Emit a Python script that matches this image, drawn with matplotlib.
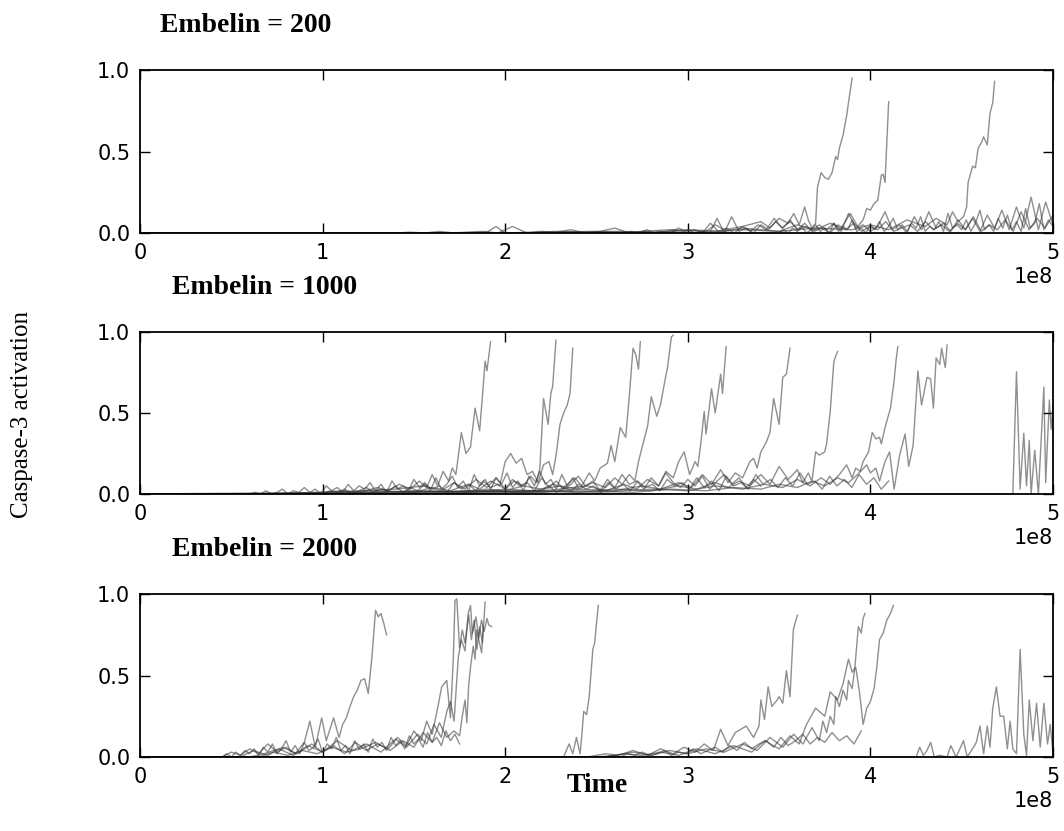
import numpy as np
import matplotlib
matplotlib.use('Agg')
import matplotlib.pyplot as plt

# time values are in units of 1e8, activation is 0..1
# each run: (times, activation)

# Embelin = 200
run200_a = ([0, 1.6, 1.9, 1.95, 2.0, 2.3, 2.6, 2.9, 3.1, 3.15, 3.2, 3.3, 3.4, 3.45, 3.5, 3.55, 3.58, 3.61, 3.64, 3.66,
             3.68, 3.70, 3.71, 3.73, 3.75, 3.77, 3.79, 3.81, 3.82, 3.83, 3.85, 3.87, 3.88, 3.90],
            [0, 0, 0.005, 0.04, 0, 0.01, 0, 0.02, 0.01, 0.05, 0.02, 0.04, 0.07, 0.03, 0.09, 0.06, 0.12, 0.05, 0.16, 0.08,
             0.03, 0.06, 0.28, 0.37, 0.34, 0.33, 0.37, 0.47, 0.45, 0.52, 0.60, 0.72, 0.80, 0.95])
run200_b = ([0, 2.0, 2.5, 2.8, 3.0, 3.2, 3.3, 3.5, 3.6, 3.7, 3.78, 3.84, 3.89, 3.93, 3.96, 3.98, 4.00, 4.02, 4.04, 4.06,
             4.07, 4.08, 4.10],
            [0, 0, 0.01, 0.0, 0.02, 0.01, 0.03, 0.01, 0.05, 0.02, 0.06, 0.03, 0.12, 0.04, 0.08, 0.15, 0.14, 0.18, 0.20, 0.355,
             0.36, 0.31, 0.805])
run200_c = ([0, 2.2, 2.6, 3.0, 3.3, 3.5, 3.7, 3.9, 4.0, 4.1, 4.2, 4.3, 4.36, 4.42, 4.45, 4.48, 4.51, 4.527, 4.535, 4.56,
             4.575, 4.59, 4.61, 4.62, 4.64, 4.655, 4.67, 4.68],
            [0, 0, 0.01, 0.0, 0.02, 0.01, 0.03, 0.02, 0.05, 0.02, 0.08, 0.04, 0.09, 0.05, 0.13, 0.07, 0.10, 0.16, 0.31, 0.41,
             0.40, 0.52, 0.56, 0.59, 0.54, 0.735, 0.80, 0.93])

# runs that stay low: (first time, last time, evenly spaced samples)
quiet200_a = (2.8, 5.0, [0, 0.01, 0, 0.01, 0.0, 0.02, 0, 0.01, 0.0, 0.09, 0.0, 0.10, 0.01, 0.03, 0.0, 0.05, 0.02, 0.07,
                         0.03, 0.08, 0.02, 0.06, 0.01, 0.05, 0.02, 0.06, 0.01, 0.12, 0.03, 0.05, 0.01, 0.04, 0.13, 0.02,
                         0.05, 0.0, 0.10, 0.02, 0.13, 0.03, 0.06, 0.01, 0.08, 0.02, 0.09, 0.01, 0.11, 0.03, 0.14, 0.02,
                         0.16, 0.03, 0.22, 0.02, 0.19, 0.05])
quiet200_b = (2.6, 5.0, [0, 0, 0.01, 0, 0.02, 0, 0.01, 0.0, 0.03, 0.01, 0.02, 0.0, 0.06, 0.01, 0.03, 0.0, 0.04, 0.01,
                         0.05, 0.02, 0.09, 0.03, 0.07, 0.02, 0.04, 0.01, 0.03, 0.0, 0.05, 0.02, 0.06, 0.01, 0.04, 0.02,
                         0.07, 0.01, 0.03, 0.05, 0.01, 0.07, 0.02, 0.05, 0.01, 0.06, 0.02, 0.10, 0.01, 0.05, 0.02, 0.08,
                         0.01, 0.13, 0.02, 0.09, 0.03, 0.11])
quiet200_c = (1.4, 3.0, [0, 0.005, 0, 0.01, 0, 0.005, 0.01, 0, 0.04, 0, 0.01, 0.005, 0.02, 0.0, 0.01, 0.03, 0.0, 0.01,
                         0.0, 0.02, 0.0])
quiet200_d = (3.5, 5.0, [0, 0.02, 0, 0.03, 0.01, 0.04, 0, 0.02, 0.05, 0.01, 0.03, 0, 0.06, 0.01, 0.04, 0.02, 0.08, 0.01,
                         0.03, 0, 0.05, 0.02, 0.07, 0.01, 0.04, 0.09, 0.02, 0.05, 0.01, 0.06, 0.03, 0.10, 0.01, 0.04,
                         0.02, 0.07, 0.01, 0.12, 0.03, 0.05, 0.02, 0.08, 0.01, 0.06, 0.14, 0.02, 0.05, 0.01, 0.09, 0.03,
                         0.11, 0.02, 0.07, 0.01, 0.15, 0.03, 0.06, 0.18, 0.02, 0.08, 0.04])

# Embelin = 1000
run1000_a = ([0, 0.6, 0.8, 1.0, 1.1, 1.2, 1.3, 1.36, 1.42, 1.48, 1.53, 1.57, 1.60, 1.63, 1.66, 1.69, 1.71, 1.73, 1.76,
              1.785, 1.81, 1.835, 1.86, 1.875, 1.89, 1.90, 1.92],
             [0, 0, 0.005, 0.01, 0.02, 0.01, 0.04, 0.02, 0.06, 0.03, 0.08, 0.04, 0.12, 0.05, 0.14, 0.08, 0.16, 0.12, 0.38,
              0.25, 0.29, 0.53, 0.39, 0.60, 0.82, 0.76, 0.94])
run1000_b = ([0, 0.7, 1.0, 1.2, 1.4, 1.55, 1.65, 1.72, 1.78, 1.84, 1.90, 1.95, 2.0, 2.05, 2.10, 2.14, 2.17, 2.19, 2.21,
              2.235, 2.25, 2.26, 2.278],
             [0, 0, 0.01, 0.02, 0.03, 0.05, 0.02, 0.07, 0.03, 0.09, 0.04, 0.10, 0.03, 0.08, 0.05, 0.11, 0.07, 0.16, 0.59,
              0.43, 0.62, 0.665, 0.95])
run1000_c = ([0, 0.8, 1.1, 1.3, 1.5, 1.6, 1.7, 1.8, 1.86, 1.92, 1.97, 2.00, 2.03, 2.06, 2.09, 2.12, 2.15, 2.18, 2.21,
              2.24, 2.26, 2.28, 2.30, 2.32, 2.34, 2.355, 2.37],
             [0, 0, 0.01, 0.02, 0.01, 0.04, 0.02, 0.06, 0.03, 0.08, 0.05, 0.20, 0.25, 0.19, 0.22, 0.12, 0.14, 0.07, 0.18,
              0.20, 0.12, 0.25, 0.43, 0.50, 0.55, 0.62, 0.90])
run1000_d = ([0, 1.0, 1.3, 1.5, 1.7, 1.9, 2.0, 2.1, 2.2, 2.26, 2.32, 2.38, 2.42, 2.46, 2.49, 2.52, 2.56, 2.58, 2.60, 2.63,
              2.66, 2.68, 2.70, 2.715, 2.73, 2.74],
             [0, 0, 0.01, 0.02, 0.01, 0.03, 0.02, 0.05, 0.03, 0.06, 0.04, 0.10, 0.05, 0.13, 0.08, 0.16, 0.19, 0.30, 0.20,
              0.41, 0.35, 0.61, 0.90, 0.86, 0.77, 0.94])
run1000_e = ([0, 1.0, 1.3, 1.6, 1.8, 2.0, 2.15, 2.3, 2.4, 2.48, 2.55, 2.6, 2.64, 2.68, 2.71, 2.73, 2.75, 2.78, 2.80, 2.83,
              2.85, 2.87, 2.89, 2.91, 2.92],
             [0, 0, 0.01, 0.02, 0.01, 0.03, 0.02, 0.05, 0.03, 0.07, 0.04, 0.10, 0.06, 0.12, 0.08, 0.20, 0.29, 0.42, 0.60,
              0.48, 0.55, 0.67, 0.79, 0.97, 0.98])
run1000_f = ([0, 1.2, 1.5, 1.8, 2.1, 2.3, 2.45, 2.55, 2.65, 2.72, 2.78, 2.84, 2.88, 2.92, 2.95, 2.98, 3.01, 3.04, 3.055,
              3.07, 3.09, 3.10, 3.13, 3.15, 3.18, 3.19, 3.21],
             [0, 0, 0.01, 0.02, 0.01, 0.03, 0.05, 0.02, 0.06, 0.03, 0.09, 0.05, 0.14, 0.10, 0.20, 0.26, 0.12, 0.20, 0.17,
              0.30, 0.51, 0.37, 0.65, 0.50, 0.74, 0.62, 0.91])
run1000_g = ([0, 1.3, 1.6, 1.9, 2.2, 2.4, 2.6, 2.75, 2.85, 2.95, 3.02, 3.08, 3.13, 3.18, 3.22, 3.26, 3.30, 3.34, 3.36,
              3.38, 3.40, 3.43, 3.45, 3.47, 3.50, 3.52, 3.54, 3.56],
             [0, 0, 0.01, 0.02, 0.01, 0.03, 0.02, 0.05, 0.03, 0.07, 0.04, 0.12, 0.06, 0.15, 0.07, 0.13, 0.10, 0.20, 0.22,
              0.16, 0.26, 0.32, 0.38, 0.59, 0.43, 0.72, 0.74, 0.90])
run1000_h = ([0, 1.5, 1.8, 2.1, 2.4, 2.6, 2.8, 2.95, 3.05, 3.15, 3.22, 3.28, 3.34, 3.40, 3.45, 3.50, 3.55, 3.60, 3.63,
              3.66, 3.68, 3.70, 3.72, 3.75, 3.76, 3.78, 3.80, 3.82],
             [0, 0, 0.01, 0.02, 0.01, 0.03, 0.02, 0.05, 0.03, 0.07, 0.04, 0.08, 0.05, 0.12, 0.06, 0.17, 0.09, 0.15, 0.07,
              0.13, 0.08, 0.26, 0.24, 0.26, 0.31, 0.51, 0.82, 0.88])
run1000_i = ([0, 1.6, 1.9, 2.2, 2.5, 2.8, 3.0, 3.15, 3.3, 3.42, 3.52, 3.6, 3.67, 3.73, 3.78, 3.83, 3.87, 3.90, 3.92,
              3.944, 3.96, 3.99, 4.01, 4.03, 4.05, 4.06, 4.08, 4.11, 4.13, 4.14, 4.15],
             [0, 0, 0.01, 0.02, 0.01, 0.03, 0.02, 0.05, 0.03, 0.06, 0.04, 0.09, 0.05, 0.10, 0.06, 0.12, 0.18, 0.10, 0.16,
              0.14, 0.20, 0.26, 0.38, 0.34, 0.35, 0.31, 0.41, 0.53, 0.70, 0.82, 0.91])
run1000_j = ([0, 1.8, 2.1, 2.4, 2.7, 2.9, 3.1, 3.25, 3.4, 3.5, 3.6, 3.68, 3.75, 3.82, 3.88, 3.93, 3.98, 4.00, 4.03, 4.05,
              4.08, 4.105, 4.13, 4.16, 4.19, 4.21, 4.234, 4.26, 4.28, 4.31, 4.33, 4.345, 4.36, 4.38, 4.39, 4.41, 4.42],
             [0, 0, 0.01, 0.02, 0.01, 0.03, 0.02, 0.04, 0.03, 0.06, 0.04, 0.08, 0.05, 0.10, 0.07, 0.12, 0.18, 0.13, 0.16,
              0.08, 0.20, 0.26, 0.03, 0.24, 0.37, 0.17, 0.30, 0.76, 0.55, 0.72, 0.71, 0.53, 0.84, 0.80, 0.90, 0.78, 0.92])
run1000_k = ([0, 4.78, 4.80, 4.82, 4.84, 4.855, 4.87, 4.88, 4.90, 4.92, 4.95, 4.96, 4.98, 4.99, 5.0],
             [0, 0, 0.755, 0.03, 0.375, 0.05, 0.33, 0.0, 0.27, 0.0, 0.66, 0.07, 0.58, 0.40, 0.55])

quiet1000_a = (0.6, 2.4, [0, 0.01, 0, 0.02, 0, 0.01, 0.03, 0, 0.02, 0.01, 0.04, 0.01, 0.03, 0.0, 0.05, 0.02, 0.04, 0.01,
                          0.06, 0.02, 0.05, 0.03, 0.07, 0.02, 0.06, 0.01, 0.08, 0.03, 0.05, 0.02, 0.09, 0.04, 0.07, 0.02,
                          0.10, 0.03, 0.06, 0.11, 0.04, 0.08, 0.02, 0.12, 0.05, 0.09, 0.03, 0.10, 0.06, 0.13, 0.04, 0.08,
                          0.02, 0.11, 0.05, 0.14, 0.06, 0.09, 0.03, 0.12, 0.05, 0.10, 0.04])
quiet1000_b = (1.0, 3.4, [0, 0.02, 0.01, 0.03, 0, 0.02, 0.04, 0.01, 0.03, 0.02, 0.05, 0.01, 0.04, 0.02, 0.06, 0.03, 0.05,
                          0.01, 0.07, 0.03, 0.06, 0.02, 0.08, 0.04, 0.06, 0.03, 0.09, 0.05, 0.07, 0.02, 0.10, 0.04, 0.08,
                          0.03, 0.06, 0.11, 0.05, 0.08, 0.02, 0.09, 0.04, 0.12, 0.06, 0.08, 0.03, 0.10, 0.05, 0.13, 0.07,
                          0.04, 0.09, 0.05, 0.11, 0.03, 0.08, 0.12, 0.06, 0.10, 0.04, 0.09, 0.05])
quiet1000_c = (2.2, 4.1, [0.02, 0.05, 0.01, 0.04, 0.02, 0.06, 0.03, 0.05, 0.01, 0.07, 0.03, 0.06, 0.02, 0.08, 0.04, 0.06,
                          0.02, 0.09, 0.05, 0.07, 0.03, 0.10, 0.04, 0.08, 0.02, 0.11, 0.05, 0.07, 0.03, 0.12, 0.06, 0.09,
                          0.04, 0.10, 0.05, 0.13, 0.06, 0.08, 0.03, 0.11, 0.05, 0.09, 0.04, 0.12, 0.06, 0.10, 0.03, 0.08])

# Embelin = 2000
run2000_a = ([0, 0.45, 0.5, 0.55, 0.6, 0.65, 0.70, 0.75, 0.80, 0.85, 0.90, 0.93, 0.96, 0.995, 1.02, 1.06, 1.09, 1.11,
              1.13, 1.15, 1.17, 1.19, 1.21, 1.23, 1.25, 1.27, 1.29, 1.305, 1.32, 1.335, 1.35],
             [0, 0, 0.03, 0.01, 0.05, 0.02, 0.08, 0.03, 0.06, 0.02, 0.09, 0.22, 0.06, 0.24, 0.10, 0.24, 0.12, 0.20, 0.24,
              0.31, 0.37, 0.41, 0.47, 0.48, 0.39, 0.61, 0.90, 0.86, 0.88, 0.82, 0.75])
run2000_b = ([0, 0.55, 0.62, 0.70, 0.78, 0.86, 0.94, 1.00, 1.06, 1.12, 1.18, 1.24, 1.30, 1.36, 1.41, 1.46, 1.50, 1.54,
              1.57, 1.60, 1.63, 1.652, 1.68, 1.70, 1.716, 1.725, 1.735, 1.75, 1.765, 1.78, 1.80, 1.815, 1.83, 1.845,
              1.86, 1.875, 1.89],
             [0, 0, 0.04, 0.01, 0.06, 0.02, 0.08, 0.03, 0.07, 0.02, 0.09, 0.04, 0.08, 0.05, 0.12, 0.07, 0.16, 0.10, 0.22,
              0.14, 0.30, 0.43, 0.47, 0.24, 0.61, 0.96, 0.97, 0.67, 0.78, 0.70, 0.87, 0.72, 0.84, 0.66, 0.80, 0.70, 0.95])
run2000_c = ([0, 0.6, 0.68, 0.76, 0.84, 0.92, 1.0, 1.08, 1.16, 1.24, 1.32, 1.40, 1.46, 1.52, 1.57, 1.61, 1.65, 1.68,
              1.70, 1.72, 1.743, 1.76, 1.78, 1.797, 1.81, 1.82, 1.84, 1.855, 1.87, 1.885, 1.90, 1.91, 1.925],
             [0, 0, 0.02, 0.05, 0.01, 0.07, 0.03, 0.10, 0.04, 0.08, 0.03, 0.11, 0.06, 0.14, 0.08, 0.20, 0.12, 0.28, 0.34,
              0.22, 0.61, 0.72, 0.65, 0.88, 0.93, 0.76, 0.86, 0.73, 0.84, 0.77, 0.85, 0.81, 0.80])
run2000_d = ([0, 0.65, 0.73, 0.81, 0.89, 0.97, 1.05, 1.13, 1.21, 1.29, 1.37, 1.44, 1.50, 1.55, 1.60, 1.64, 1.68, 1.72,
              1.75, 1.765, 1.78, 1.79, 1.80, 1.81, 1.825, 1.835, 1.843, 1.855, 1.871, 1.88],
             [0, 0, 0.03, 0.01, 0.04, 0.02, 0.06, 0.03, 0.05, 0.09, 0.04, 0.10, 0.06, 0.15, 0.09, 0.21, 0.12, 0.16, 0.13,
              0.25, 0.35, 0.21, 0.44, 0.55, 0.68, 0.60, 0.78, 0.72, 0.64, 0.80])
run2000_e = ([0, 2.32, 2.35, 2.37, 2.39, 2.41, 2.42, 2.43, 2.446, 2.46, 2.48, 2.49, 2.50, 2.51],
             [0, 0, 0.08, 0.02, 0.12, 0.02, 0.14, 0.28, 0.26, 0.37, 0.66, 0.70, 0.82, 0.93])
run2000_f = ([0, 2.45, 2.55, 2.62, 2.70, 2.78, 2.85, 2.92, 2.98, 3.04, 3.09, 3.14, 3.18, 3.22, 3.26, 3.29, 3.32, 3.36,
              3.39, 3.40, 3.42, 3.44, 3.46, 3.49, 3.50, 3.52, 3.54, 3.56, 3.578, 3.587, 3.60],
             [0, 0, 0.02, 0.01, 0.04, 0.01, 0.05, 0.02, 0.06, 0.03, 0.08, 0.04, 0.17, 0.07, 0.15, 0.17, 0.19, 0.12, 0.19,
              0.35, 0.23, 0.43, 0.31, 0.35, 0.37, 0.33, 0.53, 0.37, 0.78, 0.82, 0.87])
run2000_g = ([0, 2.5, 2.6, 2.7, 2.8, 2.9, 3.0, 3.1, 3.2, 3.3, 3.38, 3.45, 3.52, 3.58, 3.63, 3.68, 3.72, 3.74, 3.76, 3.78,
              3.80, 3.81, 3.83, 3.85, 3.87, 3.88, 3.90, 3.915, 3.934, 3.95, 3.96, 3.97],
             [0, 0, 0.01, 0.03, 0.01, 0.04, 0.02, 0.05, 0.03, 0.08, 0.04, 0.12, 0.06, 0.14, 0.08, 0.18, 0.10, 0.22, 0.15,
              0.25, 0.20, 0.37, 0.31, 0.41, 0.35, 0.47, 0.42, 0.55, 0.80, 0.76, 0.85, 0.88])
run2000_h = ([0, 2.55, 2.65, 2.75, 2.85, 2.95, 3.05, 3.15, 3.25, 3.35, 3.42, 3.5, 3.56, 3.61, 3.65, 3.70, 3.75, 3.78,
              3.82, 3.85, 3.88, 3.90, 3.92, 3.94, 3.96, 3.98, 4.00, 4.02, 4.035, 4.05, 4.07, 4.09, 4.11, 4.126],
             [0, 0, 0.02, 0.01, 0.03, 0.01, 0.05, 0.02, 0.07, 0.03, 0.10, 0.05, 0.13, 0.08, 0.20, 0.30, 0.25, 0.40, 0.35,
              0.45, 0.60, 0.52, 0.55, 0.40, 0.20, 0.30, 0.34, 0.42, 0.55, 0.72, 0.76, 0.84, 0.88, 0.93])
run2000_i = ([0, 4.25, 4.27, 4.29, 4.31, 4.33, 4.35, 4.38, 4.42, 4.44, 4.47, 4.51, 4.53, 4.565, 4.58, 4.60, 4.62, 4.64,
              4.655, 4.67, 4.69, 4.71, 4.73, 4.75, 4.765, 4.78, 4.80, 4.82, 4.84, 4.855, 4.87, 4.89, 4.91, 4.93, 4.95,
              4.97, 4.985, 5.0],
             [0, 0, 0.06, 0.01, 0.04, 0.09, 0.0, 0.01, 0.0, 0.07, 0.0, 0.10, 0.0, 0.06, 0.09, 0.19, 0.02, 0.19, 0.06,
              0.30, 0.43, 0.25, 0.25, 0.05, 0.22, 0.05, 0.02, 0.66, 0.14, 0.01, 0.35, 0.10, 0.33, 0.06, 0.33, 0.08, 0.20,
              0.02])

quiet2000_a = (0.45, 1.75, [0, 0.02, 0, 0.03, 0.01, 0.04, 0.02, 0.05, 0.01, 0.06, 0.03, 0.08, 0.02, 0.05, 0.10, 0.03,
                            0.07, 0.02, 0.09, 0.04, 0.06, 0.11, 0.03, 0.08, 0.05, 0.12, 0.04, 0.07, 0.02, 0.10, 0.05,
                            0.08, 0.03, 0.11, 0.06, 0.09, 0.04, 0.12, 0.07, 0.10, 0.05, 0.13, 0.08, 0.11, 0.06, 0.15,
                            0.09, 0.12, 0.07, 0.16, 0.10, 0.14, 0.08])
quiet2000_b = (2.55, 3.95, [0, 0.01, 0, 0.02, 0.01, 0.03, 0.01, 0.02, 0.04, 0.01, 0.03, 0.02, 0.05, 0.02, 0.04, 0.06,
                            0.03, 0.07, 0.04, 0.09, 0.05, 0.08, 0.10, 0.06, 0.12, 0.07, 0.10, 0.14, 0.08, 0.12, 0.09,
                            0.15, 0.10, 0.13, 0.08, 0.16])

panels = [
    ("Embelin = 200", [run200_a, run200_b, run200_c], [quiet200_a, quiet200_b, quiet200_c, quiet200_d]),
    ("Embelin = 1000", [run1000_a, run1000_b, run1000_c, run1000_d, run1000_e, run1000_f, run1000_g,
                        run1000_h, run1000_i, run1000_j, run1000_k], [quiet1000_a, quiet1000_b, quiet1000_c]),
    ("Embelin = 2000", [run2000_a, run2000_b, run2000_c, run2000_d, run2000_e, run2000_f, run2000_g,
                        run2000_h, run2000_i], [quiet2000_a, quiet2000_b]),
]

W, H = 1064, 831
plt.rcParams['xtick.labelsize'] = 15
plt.rcParams['ytick.labelsize'] = 15

fig = plt.figure(figsize=(W / 100, H / 100), dpi=100)

# axes boxes in pixels: (top, bottom)
boxes = [(70, 233), (332, 494), (594, 757)]
title_x = [160, 172, 172]
left_px, right_px = 140, 1053

for (title, runs, quiet), (top, bot), tx in zip(panels, boxes, title_x):
    ax = fig.add_axes([left_px / W, 1 - bot / H, (right_px - left_px) / W, (bot - top) / H])
    for t, y in runs:
        ax.plot(np.array(t) * 1e8, y, color='0.2', alpha=0.55, lw=1.0)
    for t0, t1, vals in quiet:
        t = np.concatenate([[0], np.linspace(t0, t1, len(vals))])
        y = np.concatenate([[0], vals])
        ax.plot(t * 1e8, y, color='0.2', alpha=0.55, lw=1.0)
    ax.set_xlim(0, 5e8)
    ax.set_ylim(0, 1.0)
    ax.set_yticks([0.0, 0.5, 1.0])
    ax.set_xticks(np.arange(0, 6) * 1e8)
    ax.tick_params(direction='in', top=True, right=True, length=7, width=1, pad=7)
    for sp in ax.spines.values():
        sp.set_linewidth(1.3)
    fig.text(tx / W, 1 - (top - 45) / H, title, fontsize=20, fontweight='bold',
             family='Liberation Serif', ha='left', va='center')

fig.text(22 / W, 1 - 415 / H, "Caspase-3 activation", fontsize=18, family='Liberation Serif',
         rotation=90, ha='center', va='center')
fig.text(597 / W, 1 - 785 / H, "Time", fontsize=20, fontweight='bold', family='Liberation Serif',
         ha='center', va='center')

fig.savefig('out.png', dpi=100)
